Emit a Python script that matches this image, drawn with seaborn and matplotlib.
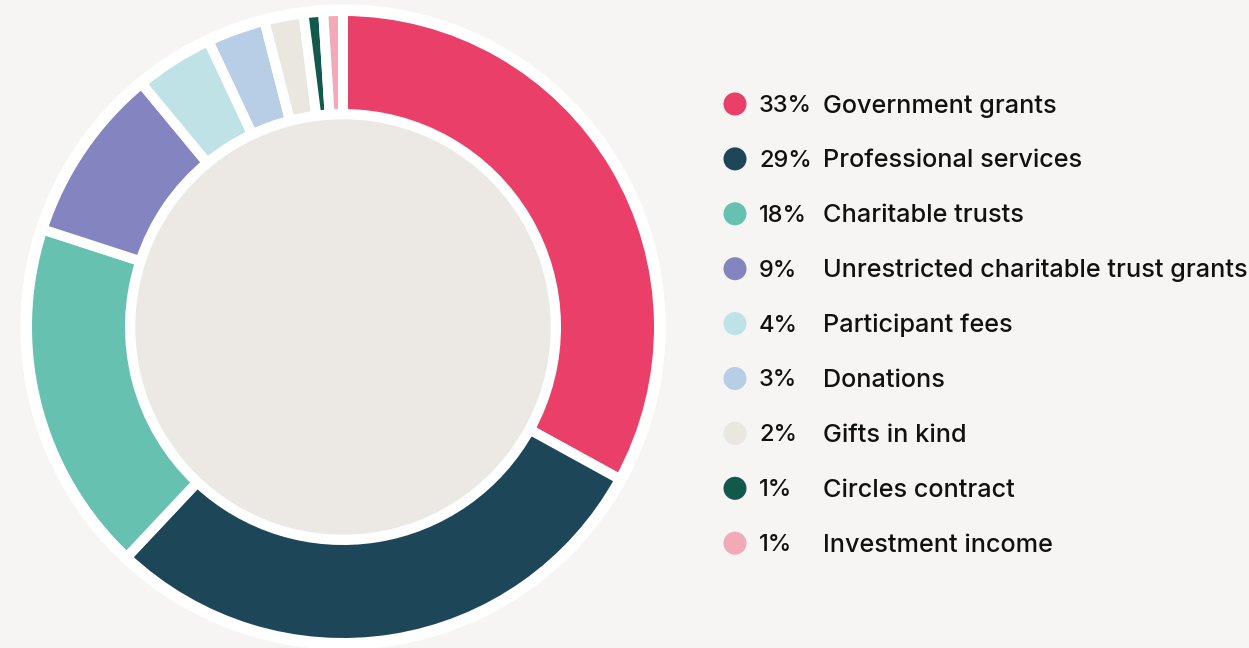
import matplotlib
matplotlib.use("Agg")
import matplotlib.pyplot as plt
import seaborn as sns
import pandas as pd

# income breakdown, clockwise from 12 o'clock
labels = ["Government grants", "Professional services", "Charitable trusts",
          "Unrestricted charitable trust grants", "Participant fees", "Donations",
          "Gifts in kind", "Circles contract", "Investment income"]
shares = [33, 29, 18, 9, 4, 3, 2, 1, 1]
colors = ["#E93F68", "#1E4659", "#67C1B1", "#8485C0", "#BEE2E6",
          "#B8CDE6", "#EAE6E0", "#12584B", "#F2A9B8"]

bg = "#F6F5F3"
sns.set_theme(style="white")
plt.rcParams["font.family"] = ["Inter", "DejaVu Sans"]

fig = plt.figure(figsize=(12.49, 6.48), dpi=100, facecolor=bg)
ax = fig.add_axes([0, 0, 1, 1])
ax.set_facecolor(bg)

cx, cy = 343, 648 - 327

# white backing disc and the donut ring
ax.add_patch(plt.Circle((cx, cy), 322, color="white", zorder=0))
ax.pie(shares, colors=colors, startangle=90, counterclock=False,
       center=(cx, cy), radius=316,
       wedgeprops=dict(width=103, edgecolor="white", linewidth=7.2))
ax.add_patch(plt.Circle((cx, cy), 207, color="#ECE9E4", zorder=5))

# legend rows
leg = pd.DataFrame({"label": labels, "share": shares})
leg["x"] = 735
leg["y"] = [648 - (104 + 54.9 * i) for i in range(len(labels))]
sns.scatterplot(data=leg, x="x", y="y", hue="label", palette=colors,
                s=275, linewidth=0, legend=False, ax=ax, zorder=6)
for _, r in leg.iterrows():
    ax.text(759, r["y"] - 2, f"{r['share']}%", fontsize=17, color="#111111",
            va="center", ha="left", fontweight="medium")
    ax.text(823, r["y"] - 2, r["label"], fontsize=18.2, color="#111111",
            va="center", ha="left", fontweight="medium")

ax.set_xlim(0, 1249)
ax.set_ylim(0, 648)
ax.set_aspect("auto")
ax.axis("off")
fig.savefig("out.png", dpi=100, facecolor=bg)
